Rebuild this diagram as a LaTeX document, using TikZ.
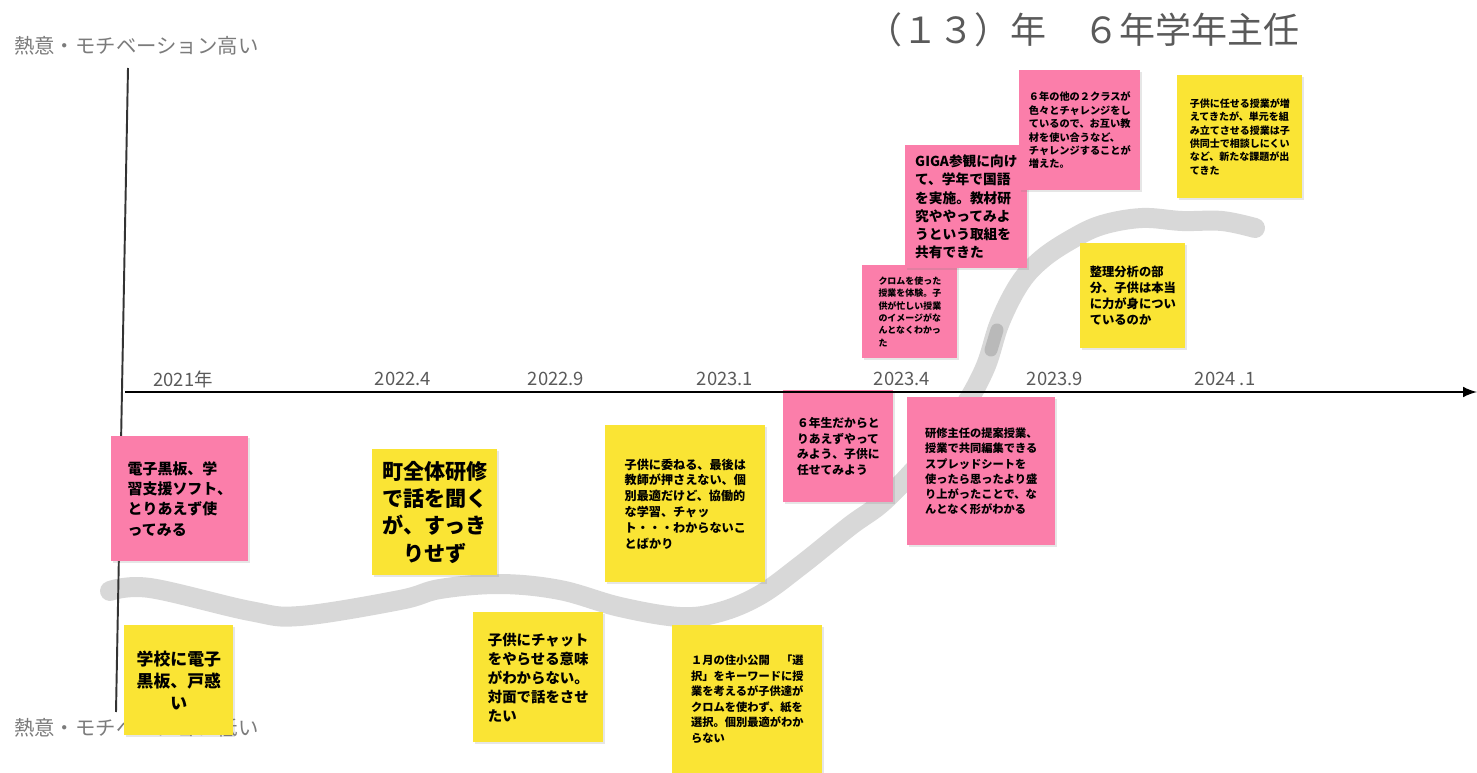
\documentclass[tikz,border=0pt]{standalone}
\usepackage{fontspec}
\setmainfont{Noto Sans CJK JP}
\usetikzlibrary{shadows}
\definecolor{notepink}{RGB}{251,126,170}
\definecolor{noteyellow}{RGB}{250,228,52}
\definecolor{labelgray}{RGB}{90,90,90}
\definecolor{strokegray}{RGB}{216,216,216}
\tikzset{arrow/.style={->, >=latex}}
\tikzset{
  note/.style={anchor=north west, inner sep=0pt, align=left,
    drop shadow={shadow xshift=1.2pt, shadow yshift=-1.2pt, opacity=0.2}},
  pinknote/.style={note, fill=notepink},
  yellownote/.style={note, fill=noteyellow},
  notesize/.style 2 args={minimum width=#1*0.02cm, minimum height=#2*0.02cm},
  notefont/.style 2 args={font=\bfseries\fontsize{#1}{#2}\selectfont},
  yearlabel/.style={text=labelgray, font=\fontsize{10.5}{12}\selectfont},
  sidelabel/.style={anchor=west, text=labelgray!80, font=\fontsize{11.6}{13}\selectfont},
}

\begin{document}
\begin{tikzpicture}[x=0.02cm, y=-0.02cm]
      \useasboundingbox (0,0) rectangle (1477,773);

      % title and side labels
      \node (title) at (1083,30) {\textcolor{labelgray}{\fontsize{20.5}{24}\selectfont （１３）年　６年学年主任}};
      \node[sidelabel] (high) at (8,46) {熱意・モチベーション高い};
      \node[sidelabel] (low) at (8,728) {熱意・モチベーション低い};

      % the motivation stroke
      \draw[strokegray, line width=0.4cm, line cap=round, line join=round]
        plot[smooth, tension=0.6] coordinates {(110,591) (150,588) (250,611) (300,616) (400,600) (440,589)
          (500,584) (560,590) (620,607) (680,617) (720,612) (760,595) (800,566) (850,526) (885,500)
          (930,452) (962,410) (985,368) (1000,322) (1020,283) (1042,259) (1072,239) (1102,225)
          (1142,218) (1182,221) (1222,221) (1255,228)};
      \draw[gray!55, line width=0.26cm, line cap=round] (991,350) -- (997,330);

      % vertical axis
      \coordinate (vtop) at (128,68);
      \coordinate (vbottom) at (116,712);
      \draw[gray!40!black, line width=1.1pt] (vtop) -- (vbottom);

      % sticky notes
      \node[pinknote, notesize={137}{125}, notefont={8.5}{11.5}] (boards) at (111,436)
        {電子黒板、学\\習支援ソフト、\\とりあえず使\\ってみる};
      \node[yellownote, notesize={109}{110}, notefont={9.6}{12.5}, align=center] (puzzled) at (124,625)
        {学校に電子\\黒板、戸惑\\い};
      \node[yellownote, notesize={125}{126}, notefont={12}{15.5}, align=center] (townwide) at (372,449)
        {町全体研修\\で話を聞く\\が、すっき\\りせず};
      \node[yellownote, notesize={130}{130}, notefont={8.2}{10.8}] (chat) at (473,612)
        {子供にチャット\\をやらせる意味\\がわからない。\\対面で話をさせ\\たい};
      \node[yellownote, notesize={160}{157}, notefont={6.9}{9}] (entrust) at (605,425)
        {子供に委ねる、最後は\\教師が押さえない、個\\別最適だけど、協働的\\な学習、チャッ\\ト・・・わからないこ\\とばかり};
      \node[yellownote, notesize={150}{148}, notefont={6.4}{8.8}] (january) at (672,625)
        {１月の住小公開　「選\\択」をキーワードに授\\業を考えるが子供達が\\クロムを使わず、紙を\\選択。個別最適がわか\\らない};
      \node[pinknote, notesize={110}{112}, notefont={6.7}{8.8}] (sixth) at (783,390)
        {６年生だからと\\りあえずやって\\みよう、子供に\\任せてみよう};
      \node[pinknote, notesize={148}{148}, notefont={6.4}{8.6}] (proposal) at (907,397)
        {研修主任の提案授業、\\授業で共同編集できる\\スプレッドシートを\\使ったら思ったより盛\\り上がったことで、な\\んとなく形がわかる};
      \node[pinknote, notesize={95}{93}, notefont={5.1}{7}] (chrome) at (862,265)
        {クロムを使った\\授業を体験。子\\供が忙しい授業\\のイメージがな\\んとなくわかっ\\た};
      \node[pinknote, notesize={122}{123}, notefont={7.8}{10.3}] (giga) at (905,145)
        {GIGA参観に向け\\て、学年で国語\\を実施。教材研\\究ややってみよ\\うという取組を\\共有できた};
      \node[pinknote, notesize={121}{120}, notefont={5.8}{7.6}] (classes) at (1019,70)
        {６年の他の２クラスが\\色々とチャレンジをし\\ているので、お互い教\\材を使い合うなど、\\チャレンジすることが\\増えた。};
      \node[yellownote, notesize={125}{123}, notefont={5.7}{7.6}] (newtask) at (1177,75)
        {子供に任せる授業が増\\えてきたが、単元を組\\み立てさせる授業は子\\供同士で相談しにくい\\など、新たな課題が出\\てきた};
      \node[yellownote, notesize={105}{105}, notefont={7}{9.2}] (analysis) at (1080,243)
        {整理分析の部\\分、子供は本当\\に力が身につい\\ているのか};

      % time axis
      \coordinate (origin) at (125,392);
      \coordinate (tend) at (1477,392);
      \draw[arrow, line width=1.7pt] (origin) -- (tend);

      \node[yearlabel] (y2021) at (183,379) {2021年};
      \node[yearlabel] (y2022a) at (403,379) {2022.4};
      \node[yearlabel] (y2022b) at (556,379) {2022.9};
      \node[yearlabel] (y2023a) at (725,379) {2023.1};
      \node[yearlabel] (y2023b) at (902,379) {2023.4};
      \node[yearlabel] (y2023c) at (1055,379) {2023.9};
      \node[yearlabel] (y2024) at (1225,379) {2024 .1};
\end{tikzpicture}
\end{document}
